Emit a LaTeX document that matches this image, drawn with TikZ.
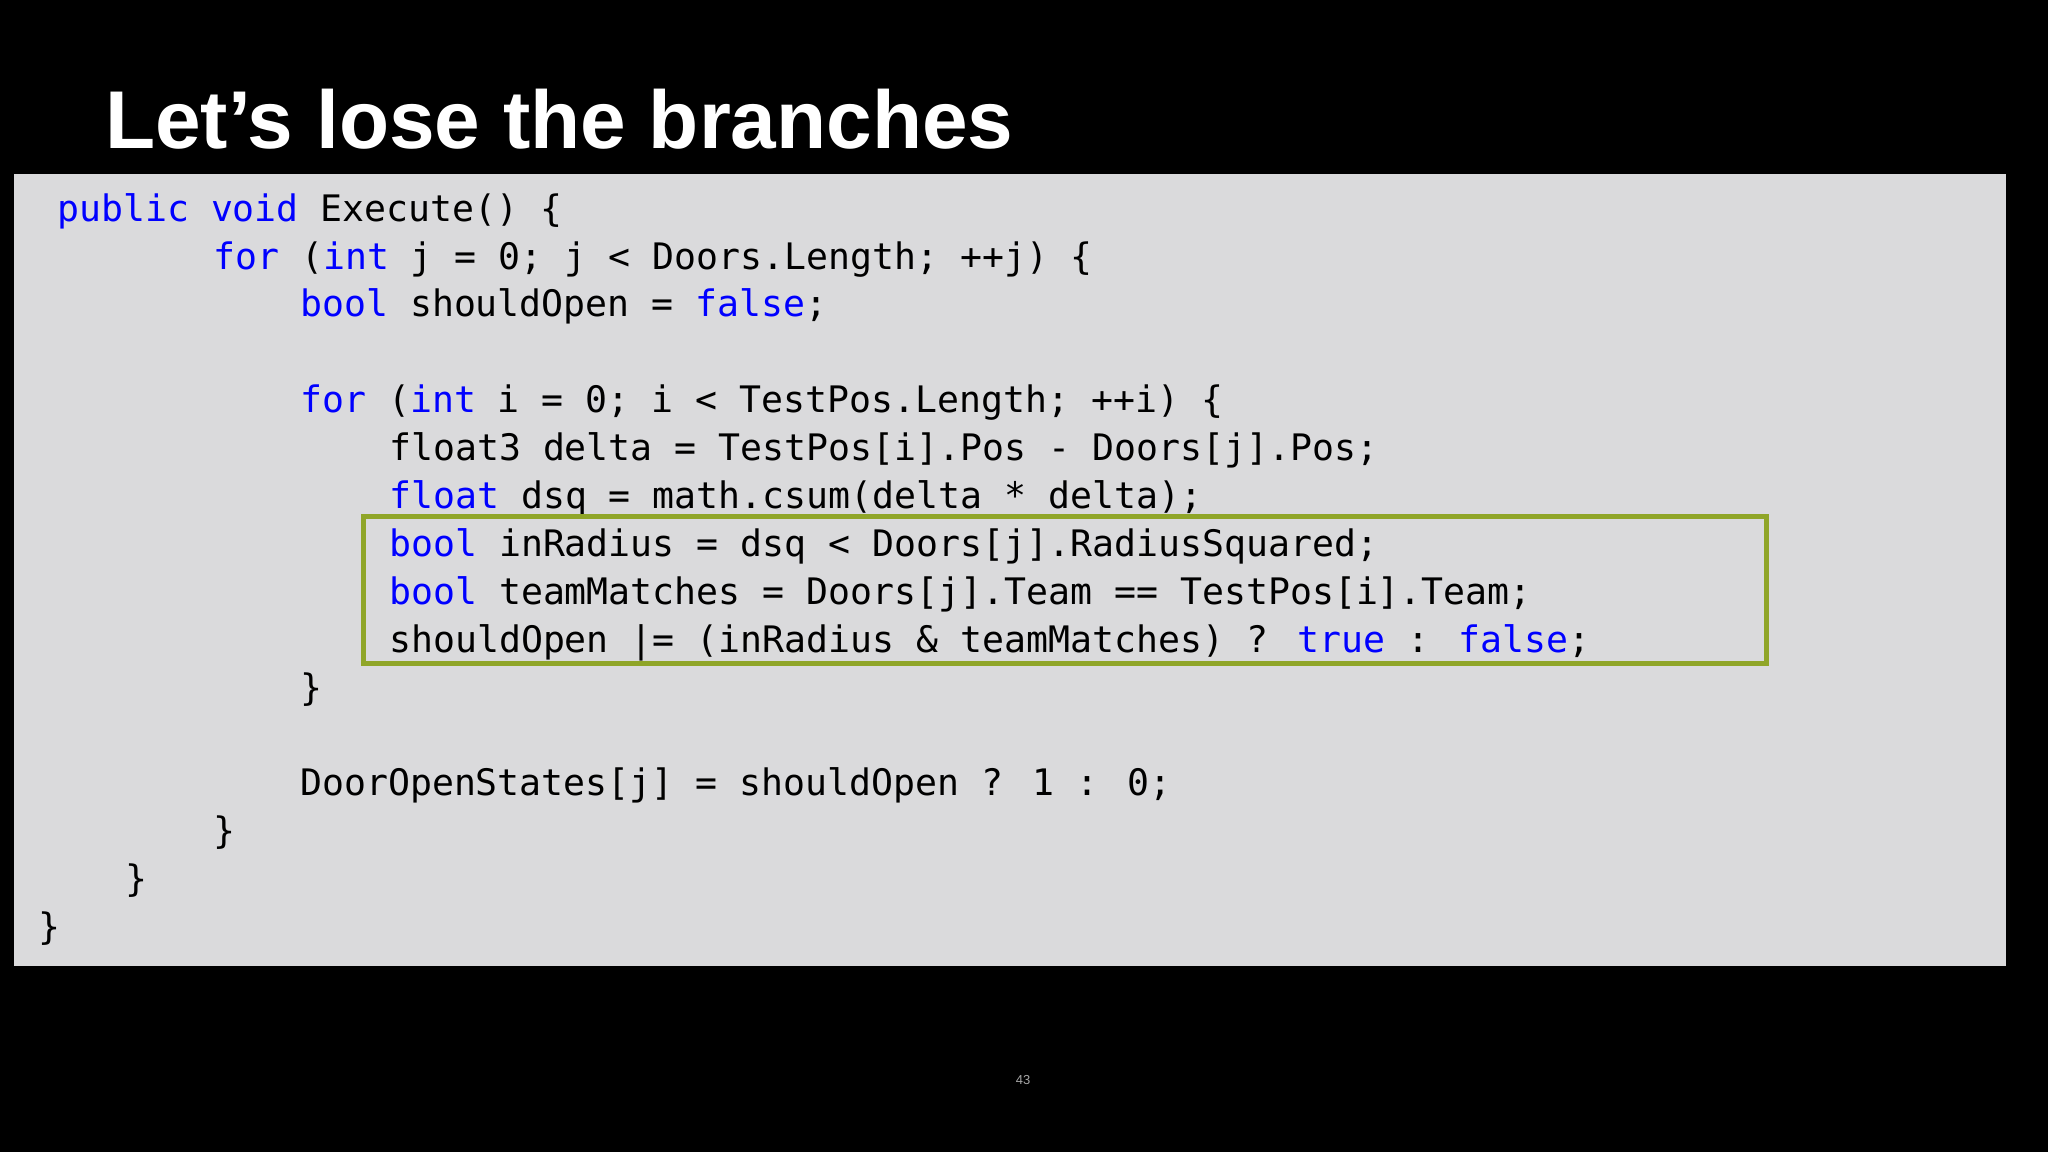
\documentclass[tikz,border=0pt]{standalone}
\usepackage{fontspec}
\setmainfont{Liberation Sans}
\newfontfamily\codefont{DejaVu Sans Mono}
\definecolor{kw}{HTML}{0000FF}
\definecolor{panel}{HTML}{DADADC}
\definecolor{hl}{HTML}{8FA528}
\newcommand{\kw}[1]{{\color{kw}#1}}
\begin{document}
\begin{tikzpicture}[x=1pt,y=-1pt,
  code/.style={anchor=base west,inner sep=0pt,font=\codefont\fontsize{36.5}{44}\selectfont,text=black}]
\fill[black] (0,0) rectangle (2048,1152);
\useasboundingbox (0,0) rectangle (2048,1152);
\node[anchor=base west,inner sep=0pt,text=white,font=\bfseries\fontsize{82}{90}\selectfont] (title) at (105,148) {Let’s lose the branches};
\fill[panel] (14,174) rectangle (2006,966);
\def\ls{47.8}
\node[code] (l1) at (57,221) {\kw{public} \kw{void} Execute() \{};
\node[code] (l2) at (213,269) {\kw{for} (\kw{int} j = 0; j < Doors.Length; ++j) \{};
\node[code] (l3) at (300,316) {\kw{bool} shouldOpen = \kw{false};};
\node[code] (l5) at (300,412) {\kw{for} (\kw{int} i = 0; i < TestPos.Length; ++i) \{};
\node[code] (l6) at (389,460) {float3 delta = TestPos[i].Pos - Doors[j].Pos;};
\node[code] (l7) at (389,508) {\kw{float} dsq = math.csum(delta * delta);};
\node[code] (l8) at (389,556) {\kw{bool} inRadius = dsq < Doors[j].RadiusSquared;};
\node[code] (l9) at (389,604) {\kw{bool} teamMatches = Doors[j].Team == TestPos[i].Team;};
\node[code] (l10) at (389,652) {shouldOpen |= (inRadius \& teamMatches) ? \kw{true} : \kw{false};};
\node[code] (l11) at (300,700) {\}};
\node[code] (l13) at (300,795) {DoorOpenStates[j] = shouldOpen ? 1 : 0;};
\node[code] (l14) at (213,843) {\}};
\node[code] (l15) at (125,891) {\}};
\node[code] (l16) at (38,939) {\}};
\draw[hl,line width=5pt] (363,516) rectangle (1766,663);
\node[text=gray!70,font=\fontsize{13}{15}\selectfont] (pg) at (1023,1080) {43};
\end{tikzpicture}
\end{document}
